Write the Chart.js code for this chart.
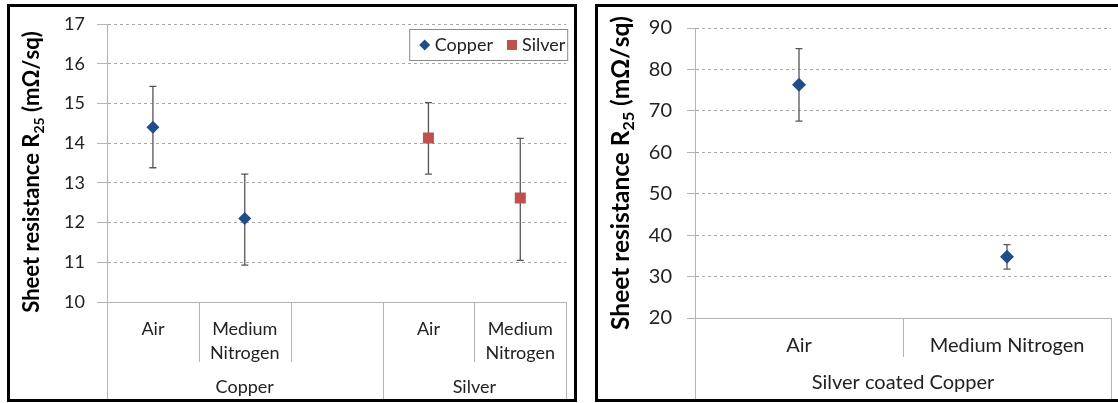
<!DOCTYPE html>
<html>
<head>
<meta charset="utf-8">
<script src="https://cdn.jsdelivr.net/npm/chart.js@4.4.1/dist/chart.umd.min.js"></script>
<style>
  body { margin: 0; background: #fff; width: 1118px; height: 403px; overflow: hidden; position: relative; }
  .panel { position: absolute; top: 4px; height: 398px; border: 3px solid #000; box-sizing: border-box; background: #fff; }
  #p1 { left: 7px; width: 570px; }
  #p2 { left: 595px; width: 540px; }
  canvas { display: block; }
</style>
</head>
<body>
<div class="panel" id="p1"><canvas id="leftChart" width="564" height="392"></canvas></div>
<div class="panel" id="p2"><canvas id="rightChart" width="520" height="392"></canvas></div>
<script>
// --- left chart data ---
const leftCategories = ['Air', ['Medium', 'Nitrogen'], '', 'Air', ['Medium', 'Nitrogen']];
const leftGroups = ['Copper', 'Silver'];
const leftGroupSpans = [3, 2];
const copperValues = [14.4, 12.1, null, null, null];
const copperLow = [13.38, 10.93, null, null, null];
const copperHigh = [15.43, 13.22, null, null, null];
const silverValues = [null, null, null, 14.13, 12.62];
const silverLow = [null, null, null, 13.22, 11.05];
const silverHigh = [null, null, null, 15.02, 14.12];
const leftYTicks = [10, 17, 1]; // min, max, step

// --- right chart data ---
const rightCategories = ['Air', 'Medium Nitrogen'];
const rightGroups = ['Silver coated Copper'];
const rightGroupSpans = [2];
const coatedValues = [76.3, 34.8];
const coatedLow = [67.5, 31.8];
const coatedHigh = [85.0, 37.7];
const rightYTicks = [20, 90, 10];

const yTitleMain = 'Sheet resistance R';
const yTitleSub = '25';
const yTitleUnit = ' (mΩ/sq)';

const FONT = 'Lato, "Open Sans", sans-serif';
const BLUE = '#1f4e8a';
const RED = '#c0504d';
const AXIS = '#b4b4b4';

// error bars, separators, group labels, y title, legend
const decor = {
  id: 'decor',
  beforeDatasetsDraw(chart) {
    const ctx = chart.ctx;
    const y = chart.scales.y;
    ctx.save();
    ctx.strokeStyle = '#555';
    ctx.lineWidth = 1.3;
    chart.data.datasets.forEach((ds, di) => {
      const meta = chart.getDatasetMeta(di);
      ds.data.forEach((v, i) => {
        if (v === null) return;
        const px = meta.data[i].x;
        const top = y.getPixelForValue(ds.errHigh[i]);
        const bot = y.getPixelForValue(ds.errLow[i]);
        ctx.beginPath();
        ctx.moveTo(px, top); ctx.lineTo(px, bot);
        ctx.moveTo(px - 3.5, top); ctx.lineTo(px + 3.5, top);
        ctx.moveTo(px - 3.5, bot); ctx.lineTo(px + 3.5, bot);
        ctx.stroke();
      });
    });
    ctx.restore();
  },
  afterDraw(chart, args, opts) {
    const ctx = chart.ctx;
    const x = chart.scales.x;
    const area = chart.chartArea;
    const n = chart.data.labels.length;
    const w = (x.right - x.left) / n;
    const bounds = [0];
    opts.spans.forEach(s => bounds.push(bounds[bounds.length - 1] + s));

    ctx.save();
    ctx.strokeStyle = AXIS;
    ctx.lineWidth = 1;
    for (let i = 0; i <= n; i++) {
      const px = Math.round(x.left + i * w) + 0.5;
      const full = bounds.includes(i);
      ctx.beginPath();
      ctx.moveTo(px, area.bottom);
      ctx.lineTo(px, full ? chart.height : opts.catBottom);
      ctx.stroke();
    }
    // group labels
    ctx.fillStyle = '#222';
    ctx.font = opts.fontSize + 'px ' + FONT;
    ctx.textAlign = 'center';
    ctx.textBaseline = 'middle';
    opts.groups.forEach((g, gi) => {
      const cx = x.left + (bounds[gi] + bounds[gi + 1]) / 2 * w;
      ctx.fillText(g, cx, opts.groupY);
    });

    // y title with subscript
    const fs = opts.titleSize;
    const big = 'bold ' + fs + 'px ' + FONT;
    const small = 'bold ' + Math.round(fs * 0.65) + 'px ' + FONT;
    ctx.font = big;
    const w1 = ctx.measureText(yTitleMain).width;
    const w3 = ctx.measureText(yTitleUnit).width;
    ctx.font = small;
    const w2 = ctx.measureText(yTitleSub).width;
    const total = w1 + w2 + w3;
    ctx.translate(opts.titleX, opts.titleY);
    ctx.rotate(-Math.PI / 2);
    ctx.textAlign = 'left';
    ctx.textBaseline = 'alphabetic';
    ctx.fillStyle = '#000';
    const base = fs * 0.36;
    let sx = -total / 2;
    ctx.font = big; ctx.fillText(yTitleMain, sx, base); sx += w1;
    ctx.font = small; ctx.fillText(yTitleSub, sx, base + fs * 0.22); sx += w2;
    ctx.font = big; ctx.fillText(yTitleUnit, sx, base);
    ctx.restore();

    if (opts.legend) {
      ctx.save();
      const bw = 158, bh = 31;
      const bx = area.right - bw + 1.5, by = opts.legendY + 0.5;
      ctx.fillStyle = '#fff';
      ctx.fillRect(bx, by, bw, bh);
      ctx.strokeStyle = '#8a8a8a';
      ctx.strokeRect(bx, by, bw, bh);
      ctx.font = opts.fontSize + 'px ' + FONT;
      ctx.textBaseline = 'middle';
      let lx = bx + 15;
      const ly = by + bh / 2;
      chart.data.datasets.forEach(ds => {
        ctx.fillStyle = ds.pointBackgroundColor;
        ctx.beginPath();
        if (ds.pointStyle === 'rectRot') {
          ctx.moveTo(lx, ly - 5.5); ctx.lineTo(lx + 5.5, ly); ctx.lineTo(lx, ly + 5.5); ctx.lineTo(lx - 5.5, ly);
        } else {
          ctx.rect(lx - 5, ly - 5, 10, 10);
        }
        ctx.fill();
        ctx.fillStyle = '#222';
        ctx.fillText(ds.label, lx + 10, ly);
        lx += 10 + ctx.measureText(ds.label).width + 19;
      });
      ctx.restore();
    }
  }
};

function makeChart(id, labels, datasets, yTicks, cfg) {
  const ctx = document.getElementById(id).getContext('2d');
  return new Chart(ctx, {
    type: 'line',
    data: { labels: labels, datasets: datasets },
    plugins: [decor],
    options: {
      responsive: false,
      animation: false,
      devicePixelRatio: 1,
      layout: { padding: { left: 0, right: cfg.padRight, top: cfg.padTop, bottom: 0 } },
      plugins: {
        legend: { display: false },
        tooltip: { enabled: false },
        decor: cfg.decor
      },
      scales: {
        x: {
          offset: true,
          grid: { display: false },
          border: { display: true, color: AXIS },
          ticks: {
            color: '#222',
            font: { family: FONT, size: cfg.decor.fontSize, lineHeight: 1.33 },
            padding: cfg.tickPad,
            maxRotation: 0,
            autoSkip: false
          },
          afterFit: s => { s.height = cfg.xHeight; }
        },
        y: {
          min: yTicks[0],
          max: yTicks[1],
          grid: { color: '#a8a8a8', tickLength: cfg.yTickLen, tickColor: AXIS },
          border: { display: true, color: AXIS, dash: [3, 3] },
          ticks: {
            stepSize: yTicks[2],
            color: '#222',
            padding: cfg.yPad,
            font: { family: FONT, size: cfg.yFont }
          },
          afterFit: s => { s.width = cfg.yWidth; s.paddingTop = 0; s.paddingBottom = 0; }
        }
      }
    }
  });
}

function series(label, values, low, high, color, style, radius) {
  return {
    label: label,
    data: values,
    errLow: low,
    errHigh: high,
    showLine: false,
    pointStyle: style,
    pointRadius: radius,
    pointBackgroundColor: color,
    pointBorderColor: color,
    pointBorderWidth: 0,
    borderColor: color,
    backgroundColor: color
  };
}

makeChart('leftChart', leftCategories, [
  series('Copper', copperValues, copperLow, copperHigh, BLUE, 'rectRot', 6.5),
  series('Silver', silverValues, silverLow, silverHigh, RED, 'rect', 7.8)
], leftYTicks, {
  padRight: 4, padTop: 17, xHeight: 97, yWidth: 97, yFont: 18, yTickLen: 10, yPad: 12, tickPad: 7,
  decor: { groups: leftGroups, spans: leftGroupSpans, catBottom: 362 - 7, groupY: 387 - 7,
           fontSize: 18, titleSize: 22, titleX: 21, titleY: 172 - 7, legendY: 29 - 7, legend: true }
});

makeChart('rightChart', rightCategories, [
  series('Silver coated Copper', coatedValues, coatedLow, coatedHigh, BLUE, 'rectRot', 7)
], rightYTicks, {
  padRight: 5, padTop: 21, xHeight: 81, yWidth: 97, yFont: 20, yTickLen: 8, yPad: 15, tickPad: 6,
  decor: { groups: rightGroups, spans: rightGroupSpans, catBottom: 357 - 7, groupY: 383 - 7,
           fontSize: 20, titleSize: 24.5, titleX: 22, titleY: 173 - 7, legendY: 0, legend: false }
});
</script>
</body>
</html>
